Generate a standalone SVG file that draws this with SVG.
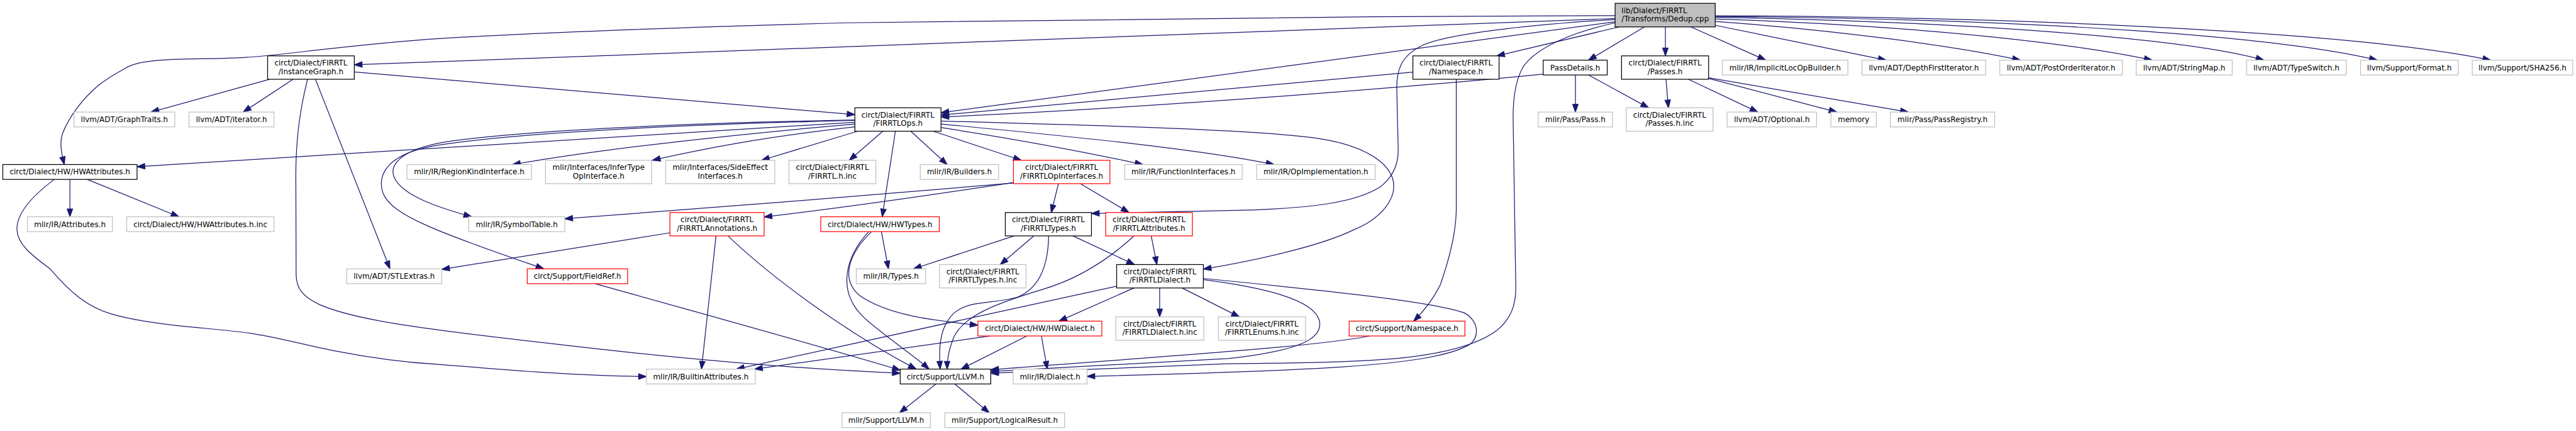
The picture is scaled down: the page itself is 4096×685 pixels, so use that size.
<svg xmlns="http://www.w3.org/2000/svg" width="4096" height="685" viewBox="0 0 4096 685">
<defs>
<marker id="ah" viewBox="0 0 14 10" refX="13.3" refY="5" markerWidth="14" markerHeight="10" orient="auto" markerUnits="userSpaceOnUse" overflow="visible"><path d="M0,0.3 L13.3,5 L0,9.7 z" fill="#191970" stroke="#191970" stroke-width="1.3"/></marker>
</defs>
<style>
.node rect{fill:#ffffff;stroke-width:1.33}
.b rect{stroke:#000000}
.g rect{stroke:#bfbfbf}
.r rect{stroke:#ff0000}
.root rect{fill:#bfbfbf;stroke:#000000}
text{font-family:"DejaVu Sans","Liberation Sans",sans-serif;font-size:12.9px;fill:#000000;text-anchor:middle}
.root text{text-anchor:start}
#edges path{fill:none;stroke:#191970;stroke-width:1.33;marker-end:url(#ah)}
</style>
<rect x="0" y="0" width="4096" height="685" fill="#ffffff"/>
<g transform="scale(0.929642)">
<g id="edges">
<path d="M2762.5,26.7 C2300,28 1700,33 1450,39 C1150,47 900,57 750,66 C600,76 470,96 421,98 C380,101 320,100 287,102 C250,104 228,108 212,118 C190,130 178,138 167,147 C140,170 118,200 107,228 C101,245 106,265 110,281.3"/>
<path d="M2762.5,31.7 L606,110.7"/>
<path d="M2762.5,37.3 L1609.5,192.7"/>
<path d="M2762.5,33.5 C2650,40 2480,55 2432,78 C2396,96 2389,120 2389,150 L2391.5,255 C2392,285 2380,305 2360,320 C2320,345 2250,357 2100,360 L1866.8,365"/>
<path d="M2762.5,39 C2690,55 2630,80 2606,113 C2591,138 2588,170 2588,200 L2592.6,490 C2593,520 2585,545 2560,565 C2520,595 2450,607 2387,613 C2300,620 2200,621 2100,622 L1694.6,638"/>
<path d="M2769.6,46 L2560,95.5"/>
<path d="M2812.7,46 L2717,102.8"/>
<path d="M2848.5,46 L2848.5,95.5"/>
<path d="M2892,46 L3020,102.8"/>
<path d="M2933.7,43.3 L3226,102.8"/>
<path d="M2933.7,36.7 C3150,52 3350,80 3455.6,102.8"/>
<path d="M2933.7,32.3 C3300,45 3550,75 3681,102.8"/>
<path d="M2933.7,29.5 C3400,38 3750,68 3872,102.8"/>
<path d="M2933.7,28 C3500,33 3900,63 4066,102.8"/>
<path d="M2933.7,27 C3500,29 4050,58 4260,102.8"/>
<path d="M606,123 L1462.2,196"/>
<path d="M461.6,135.5 L258.3,191.6"/>
<path d="M501.3,135.5 L416.1,191.6"/>
<path d="M539.5,135.5 L667,459.6"/>
<path d="M526,135.5 C515,180 506,230 506,300 L506.5,470 C507,495 520,508 545,520 C600,545 700,560 939,587 C1150,612 1350,630 1539.7,638"/>
<path d="M2416.6,123.3 L1609.5,196.7"/>
<path d="M2490.8,135.5 L2490.8,360 C2490,400 2480,440 2463.5,486.7 C2450,515 2432,535 2418,549"/>
<path d="M2639.5,126.7 C2400,150 2000,182 1609.5,200"/>
<path d="M2694.6,128.2 L2694.6,191.6"/>
<path d="M2717,128.2 L2819.8,184.3"/>
<path d="M2849.5,135.5 L2853.6,184.3"/>
<path d="M2887.8,135.5 L3006.6,191.6"/>
<path d="M2922.4,134 L3141.8,191.6"/>
<path d="M2922.4,133 L3264,191.6"/>
<path d="M1462.2,209 L234.4,285"/>
<path d="M1462.2,212 C1200,235 1000,260 876.7,281.3"/>
<path d="M1462.2,217 C1300,235 1200,255 1116,274"/>
<path d="M1467,224.3 L1302.6,274"/>
<path d="M1510,224.3 L1452.6,274"/>
<path d="M1531.5,224.3 L1509,370.6"/>
<path d="M1557.8,224.3 L1620,281.3"/>
<path d="M1596,224.3 L1746.8,274"/>
<path d="M1609.5,218 C1750,240 1880,265 1954.8,281.3"/>
<path d="M1609.5,212 C1850,235 2050,255 2179,281.3"/>
<path d="M1609.5,207 C1900,215 2150,222 2250,236 C2320,246 2370,270 2382,305 C2392,340 2360,375 2315,393 C2260,420 2150,445 2058.2,460"/>
<path d="M1462.2,205 C1200,210 900,222 760,243 C680,257 665,285 675,305 C690,335 750,355 806.7,370.6"/>
<path d="M1462.2,206 C1200,212 900,225 750,248 C660,262 645,300 655,330 C670,370 760,400 930,459.6"/>
<path d="M119.6,306.7 L119.6,370.6"/>
<path d="M149.2,306.7 L306,370.6"/>
<path d="M93,306.7 C55,335 28,365 29,393 C30,420 60,440 86,460 C120,500 150,525 191,537 C260,557 360,560 430,570 C490,580 530,592 574,600 C650,615 700,620 750,623 C900,635 1000,643 1105.6,643.7"/>
<path d="M1733.4,313 C1500,333 1200,357 966,374"/>
<path d="M1733.4,312 C1550,340 1400,360 1307,371"/>
<path d="M1810.4,314 L1798,363.3"/>
<path d="M1848,314 L1931,363.3"/>
<path d="M1145.8,398 L755.5,460.5"/>
<path d="M1224.7,403.3 L1199.8,631"/>
<path d="M1245,403.3 C1320,475 1450,570 1567,631"/>
<path d="M1018,485 C1250,550 1450,605 1539.7,633"/>
<path d="M1507.6,396 L1519.6,459.6"/>
<path d="M1490.9,396 C1455,430 1435,475 1470,505 C1520,540 1600,548 1672.6,556"/>
<path d="M1486,396 C1445,440 1430,500 1480,545 C1520,580 1560,605 1589,631"/>
<path d="M1734.7,403.3 L1562.6,459.6"/>
<path d="M1768.2,403.3 L1710.9,452.3"/>
<path d="M1835,403.3 L1940.4,452.3"/>
<path d="M1793.6,403.3 C1793,440 1785,490 1740,508 C1700,520 1660,512 1632,535 C1605,560 1606,600 1608,631"/>
<path d="M1969,403.3 L1978.7,452.3"/>
<path d="M1939.5,403.3 C1900,440 1850,475 1782.6,495 C1700,520 1650,540 1632,575 C1622,600 1620,615 1620,631"/>
<path d="M1939.5,492.3 L1811.3,549"/>
<path d="M1983.5,492.3 L1983.5,541.7"/>
<path d="M2021.8,492.3 L2119.8,541.7"/>
<path d="M1909.9,489.3 L1259.6,631"/>
<path d="M2058.2,478 C2150,490 2250,510 2257,550 C2262,580 2220,600 2100,613 L1694.6,635"/>
<path d="M2058.2,476 C2250,495 2450,515 2505,535 C2530,550 2530,575 2515,588 C2480,610 2400,620 2300,627 C2150,637 1950,641 1859.2,643.5"/>
<path d="M1756.3,574.4 L1643.9,631"/>
<path d="M1781.2,574.4 L1791.3,631"/>
<path d="M1694,574.4 L1290.7,631"/>
<path d="M2343,574.4 C2250,592 2050,605 1694.6,632"/>
<path d="M1600.9,656.4 L1538.7,705.6"/>
<path d="M1633,656.4 L1691.8,705.6"/>
</g>
<g id="n_dedup" class="node root"><rect x="2762.5" y="5.7" width="171.2" height="40.3"/><text x="2773.5" y="22.3">lib/Dialect/FIRRTL</text><text x="2773.5" y="36.8">/Transforms/Dedup.cpp</text></g>
<g id="n_instgraph" class="node b"><rect x="457.7" y="95.5" width="148.3" height="40"/><text x="531.85" y="112">circt/Dialect/FIRRTL</text><text x="531.85" y="126.5">/InstanceGraph.h</text></g>
<g id="n_nsfirrtl" class="node b"><rect x="2416.6" y="95.5" width="147.4" height="40"/><text x="2490.3" y="112">circt/Dialect/FIRRTL</text><text x="2490.3" y="126.5">/Namespace.h</text></g>
<g id="n_passdetails" class="node b"><rect x="2639.5" y="102.8" width="109.5" height="25.4"/><text x="2694.25" y="120">PassDetails.h</text></g>
<g id="n_passes" class="node b"><rect x="2773.5" y="95.5" width="148.9" height="40"/><text x="2847.95" y="112">circt/Dialect/FIRRTL</text><text x="2847.95" y="126.5">/Passes.h</text></g>
<g id="n_implicitloc" class="node g"><rect x="2945.9" y="102.8" width="214.8" height="25.4"/><text x="3053.3" y="120">mlir/IR/ImplicitLocOpBuilder.h</text></g>
<g id="n_dfi" class="node g"><rect x="3184.7" y="102.8" width="211.7" height="25.4"/><text x="3290.55" y="120">llvm/ADT/DepthFirstIterator.h</text></g>
<g id="n_poi" class="node g"><rect x="3420.4" y="102.8" width="209.8" height="25.4"/><text x="3525.3" y="120">llvm/ADT/PostOrderIterator.h</text></g>
<g id="n_stringmap" class="node g"><rect x="3653.7" y="102.8" width="164.3" height="25.4"/><text x="3735.85" y="120">llvm/ADT/StringMap.h</text></g>
<g id="n_typeswitch" class="node g"><rect x="3842.6" y="102.8" width="170.4" height="25.4"/><text x="3927.8" y="120">llvm/ADT/TypeSwitch.h</text></g>
<g id="n_format" class="node g"><rect x="4037.5" y="102.8" width="167" height="25.4"/><text x="4121" y="120">llvm/Support/Format.h</text></g>
<g id="n_sha" class="node g"><rect x="4228.6" y="102.8" width="171.9" height="25.4"/><text x="4314.55" y="120">llvm/Support/SHA256.h</text></g>
<g id="n_graphtraits" class="node g"><rect x="126.7" y="191.6" width="172.3" height="25.4"/><text x="212.85" y="208.8">llvm/ADT/GraphTraits.h</text></g>
<g id="n_iterator" class="node g"><rect x="323.3" y="191.6" width="145.4" height="25.4"/><text x="396" y="208.8">llvm/ADT/iterator.h</text></g>
<g id="n_firrtlops" class="node b"><rect x="1462.2" y="184.3" width="147.3" height="40"/><text x="1535.85" y="200.8">circt/Dialect/FIRRTL</text><text x="1535.85" y="215.3">/FIRRTLOps.h</text></g>
<g id="n_passpass" class="node g"><rect x="2630.9" y="191.6" width="127.2" height="25.4"/><text x="2694.5" y="208.8">mlir/Pass/Pass.h</text></g>
<g id="n_passesinc" class="node g"><rect x="2781.6" y="184.3" width="148.4" height="40"/><text x="2855.8" y="200.8">circt/Dialect/FIRRTL</text><text x="2855.8" y="215.3">/Passes.h.inc</text></g>
<g id="n_optional" class="node g"><rect x="2954" y="191.6" width="153.1" height="25.4"/><text x="3030.55" y="208.8">llvm/ADT/Optional.h</text></g>
<g id="n_memory" class="node g"><rect x="3131.6" y="191.6" width="77.6" height="25.4"/><text x="3170.4" y="208.8">memory</text></g>
<g id="n_passregistry" class="node g"><rect x="3233.2" y="191.6" width="178.5" height="25.4"/><text x="3322.45" y="208.8">mlir/Pass/PassRegistry.h</text></g>
<g id="n_hwattrs" class="node b"><rect x="4.8" y="281.3" width="229.6" height="25.4"/><text x="119.6" y="298.5">circt/Dialect/HW/HWAttributes.h</text></g>
<g id="n_regionkind" class="node g"><rect x="696" y="281.3" width="213" height="25.4"/><text x="802.5" y="298.5">mlir/IR/RegionKindInterface.h</text></g>
<g id="n_infertype" class="node g"><rect x="933" y="274" width="181.7" height="40"/><text x="1023.85" y="290.5">mlir/Interfaces/InferType</text><text x="1023.85" y="305">OpInterface.h</text></g>
<g id="n_sideeffect" class="node g"><rect x="1138.6" y="274" width="186.6" height="40"/><text x="1231.9" y="290.5">mlir/Interfaces/SideEffect</text><text x="1231.9" y="305">Interfaces.h</text></g>
<g id="n_firrtlhinc" class="node g"><rect x="1349.5" y="274" width="148.5" height="40"/><text x="1423.75" y="290.5">circt/Dialect/FIRRTL</text><text x="1423.75" y="305">/FIRRTL.h.inc</text></g>
<g id="n_builders" class="node g"><rect x="1574" y="281.3" width="134" height="25.4"/><text x="1641" y="298.5">mlir/IR/Builders.h</text></g>
<g id="n_opinterfaces" class="node r"><rect x="1733.4" y="274" width="165" height="40"/><text x="1815.9" y="290.5">circt/Dialect/FIRRTL</text><text x="1815.9" y="305">/FIRRTLOpInterfaces.h</text></g>
<g id="n_funcif" class="node g"><rect x="1923.7" y="281.3" width="200.9" height="25.4"/><text x="2024.15" y="298.5">mlir/IR/FunctionInterfaces.h</text></g>
<g id="n_opimpl" class="node g"><rect x="2149.3" y="281.3" width="202.7" height="25.4"/><text x="2250.65" y="298.5">mlir/IR/OpImplementation.h</text></g>
<g id="n_attributes" class="node g"><rect x="46.9" y="370.6" width="145.4" height="25.4"/><text x="119.6" y="387.8">mlir/IR/Attributes.h</text></g>
<g id="n_hwattrsinc" class="node g"><rect x="216.7" y="370.6" width="252" height="25.4"/><text x="342.7" y="387.8">circt/Dialect/HW/HWAttributes.h.inc</text></g>
<g id="n_symboltable" class="node g"><rect x="801.7" y="370.6" width="164.3" height="25.4"/><text x="883.85" y="387.8">mlir/IR/SymbolTable.h</text></g>
<g id="n_annotations" class="node r"><rect x="1145.8" y="363.3" width="161.2" height="40"/><text x="1226.4" y="379.8">circt/Dialect/FIRRTL</text><text x="1226.4" y="394.3">/FIRRTLAnnotations.h</text></g>
<g id="n_hwtypes" class="node r"><rect x="1403.8" y="370.6" width="202.8" height="25.4"/><text x="1505.2" y="387.8">circt/Dialect/HW/HWTypes.h</text></g>
<g id="n_firrtltypes" class="node b"><rect x="1719.5" y="363.3" width="147.3" height="40"/><text x="1793.15" y="379.8">circt/Dialect/FIRRTL</text><text x="1793.15" y="394.3">/FIRRTLTypes.h</text></g>
<g id="n_firrtlattrs" class="node r"><rect x="1891.2" y="363.3" width="148.3" height="40"/><text x="1965.35" y="379.8">circt/Dialect/FIRRTL</text><text x="1965.35" y="394.3">/FIRRTLAttributes.h</text></g>
<g id="n_stlextras" class="node g"><rect x="593" y="459.6" width="162.5" height="25.4"/><text x="674.25" y="476.8">llvm/ADT/STLExtras.h</text></g>
<g id="n_fieldref" class="node r"><rect x="901.8" y="459.6" width="171.7" height="25.4"/><text x="987.65" y="476.8">circt/Support/FieldRef.h</text></g>
<g id="n_types" class="node g"><rect x="1464.6" y="459.6" width="118.6" height="25.4"/><text x="1523.9" y="476.8">mlir/IR/Types.h</text></g>
<g id="n_typesinc" class="node g"><rect x="1607" y="452.3" width="148" height="40"/><text x="1681" y="468.8">circt/Dialect/FIRRTL</text><text x="1681" y="483.3">/FIRRTLTypes.h.inc</text></g>
<g id="n_fdialect" class="node b"><rect x="1909.9" y="452.3" width="148.3" height="40"/><text x="1984.05" y="468.8">circt/Dialect/FIRRTL</text><text x="1984.05" y="483.3">/FIRRTLDialect.h</text></g>
<g id="n_hwdialect" class="node r"><rect x="1672.6" y="549" width="211.9" height="25.4"/><text x="1778.55" y="566.2">circt/Dialect/HW/HWDialect.h</text></g>
<g id="n_dialectinc" class="node g"><rect x="1908.4" y="541.7" width="150.6" height="40"/><text x="1983.7" y="558.2">circt/Dialect/FIRRTL</text><text x="1983.7" y="572.7">/FIRRTLDialect.h.inc</text></g>
<g id="n_enumsinc" class="node g"><rect x="2084" y="541.7" width="149" height="40"/><text x="2158.5" y="558.2">circt/Dialect/FIRRTL</text><text x="2158.5" y="572.7">/FIRRTLEnums.h.inc</text></g>
<g id="n_supportns" class="node r"><rect x="2307.6" y="549" width="198" height="25.4"/><text x="2406.6" y="566.2">circt/Support/Namespace.h</text></g>
<g id="n_builtinattrs" class="node g"><rect x="1105.6" y="631" width="186.1" height="25.4"/><text x="1198.65" y="648.2">mlir/IR/BuiltinAttributes.h</text></g>
<g id="n_llvmh" class="node b"><rect x="1539.7" y="631" width="154.9" height="25.4"/><text x="1617.15" y="648.2">circt/Support/LLVM.h</text></g>
<g id="n_dialecth" class="node g"><rect x="1732.9" y="631" width="126.3" height="25.4"/><text x="1796.05" y="648.2">mlir/IR/Dialect.h</text></g>
<g id="n_mlirllvm" class="node g"><rect x="1440.2" y="705.6" width="151.1" height="25.4"/><text x="1515.75" y="722.8">mlir/Support/LLVM.h</text></g>
<g id="n_logicalresult" class="node g"><rect x="1616.2" y="705.6" width="204.7" height="25.4"/><text x="1718.55" y="722.8">mlir/Support/LogicalResult.h</text></g>
</g>
</svg>
